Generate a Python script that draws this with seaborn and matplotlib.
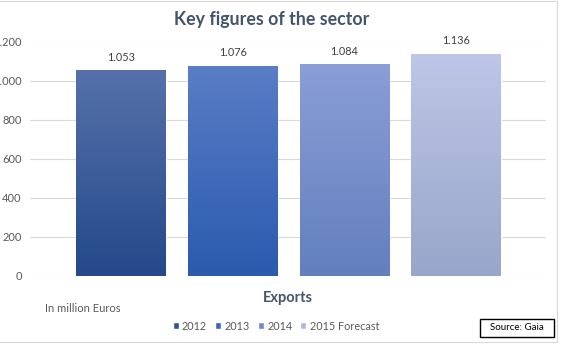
import matplotlib
matplotlib.use("Agg")
import matplotlib.pyplot as plt
from matplotlib.colors import LinearSegmentedColormap
from matplotlib.patches import Rectangle
import numpy as np
import pandas as pd
import seaborn as sns

# Export values (million euros) per year
years = ["2012", "2013", "2014", "2015 Forecast"]
exports = [1053, 1076, 1084, 1136]
y_ticks = [0, 200, 400, 600, 800, 1000, 1200]

# Bar fills: solid colours for the legend, gradient ends for the bars
legend_colors = ["#2F5597", "#3A67C0", "#7189CC", "#AEB9DD"]
top_colors = ["#5671AA", "#5A7DC6", "#8A9ED7", "#BDC6E6"]
bottom_colors = ["#24488A", "#2B5AAE", "#637FBE", "#98A6CB"]

df = pd.DataFrame({"year": years, "exports": exports})


def dotted(v):
    return f"{v:,}".replace(",", ".")


sns.set_theme(style="white")
plt.rcParams["font.family"] = ["Lato", "DejaVu Sans"]

W, H = 561, 344
fig = plt.figure(figsize=(W / 100, H / 100), dpi=100)
ax = fig.add_axes([30 / W, 68 / H, 516 / W, 234.5 / H])

sns.barplot(data=df, x="year", y="exports", hue="year", palette=legend_colors,
            width=0.8, saturation=1, legend=False, ax=ax, zorder=2)

# Vertical gradient on each bar
grad = np.linspace(0, 1, 256).reshape(-1, 1)
for cont, top, bot in zip(ax.containers, top_colors, bottom_colors):
    patch = cont.patches[0]
    x0, y0 = patch.get_x(), patch.get_y()
    w, h = patch.get_width(), patch.get_height()
    cmap = LinearSegmentedColormap.from_list("bar", [bot, top])
    im = ax.imshow(grad, cmap=cmap, extent=[x0, x0 + w, y0, y0 + h],
                   origin="lower", aspect="auto", zorder=2.5)
    im.set_clip_path(patch)

for cont, v in zip(ax.containers, exports):
    ax.bar_label(cont, labels=[dotted(v)], padding=5.5, fontsize=7.8,
                 color="#404040")

ax.set_xlim(-0.815, 3.805)
ax.set_ylim(0, 1200)
ax.set_yticks(y_ticks)
ax.set_yticklabels([dotted(t) for t in y_ticks])
ax.tick_params(axis="y", length=0, pad=6, labelsize=8, labelcolor="#595959")
ax.set_xticks([])
ax.set_ylabel("")
ax.set_xlabel("Exports", fontsize=10.5, fontweight="bold", color="#44546A",
              va="center")
ax.xaxis.set_label_coords(0.5, -(298 - 276) / 234.5)
ax.yaxis.grid(True, color="#D9D9D9", linewidth=0.8)
ax.set_axisbelow(True)
for s in ax.spines.values():
    s.set_visible(False)

fig.text(272 / W, 1 - 20 / H, "Key figures of the sector", ha="center",
         va="center", fontsize=12.8, fontweight="bold", color="#44546A")
fig.text(45 / W, 1 - 309 / H, "In million Euros", ha="left", va="center",
         fontsize=8, color="#595959")

fig.legend(ax.containers, years, loc="center",
           bbox_to_anchor=(276 / W, 1 - 326 / H), ncol=4, frameon=False,
           fontsize=7.8, labelcolor="#595959", handlelength=0.55,
           handleheight=0.55, handletextpad=0.3, columnspacing=0.75,
           borderpad=0.2)

# Source box
fig.add_artist(Rectangle((480 / W, 1 - 337 / H), 74 / W, 18 / H,
                         transform=fig.transFigure, fill=False,
                         edgecolor="black", linewidth=1))
fig.text(517 / W, 1 - 328 / H, "Source: Gaia", ha="center", va="center",
         fontsize=7, color="black")

# Chart area outline
fig.add_artist(Rectangle((-5 / W, 2 / H), 562 / W, 341 / H,
                         transform=fig.transFigure, fill=False,
                         edgecolor="#D9D9D9", linewidth=0.8))

fig.savefig("out.png", dpi=100)
